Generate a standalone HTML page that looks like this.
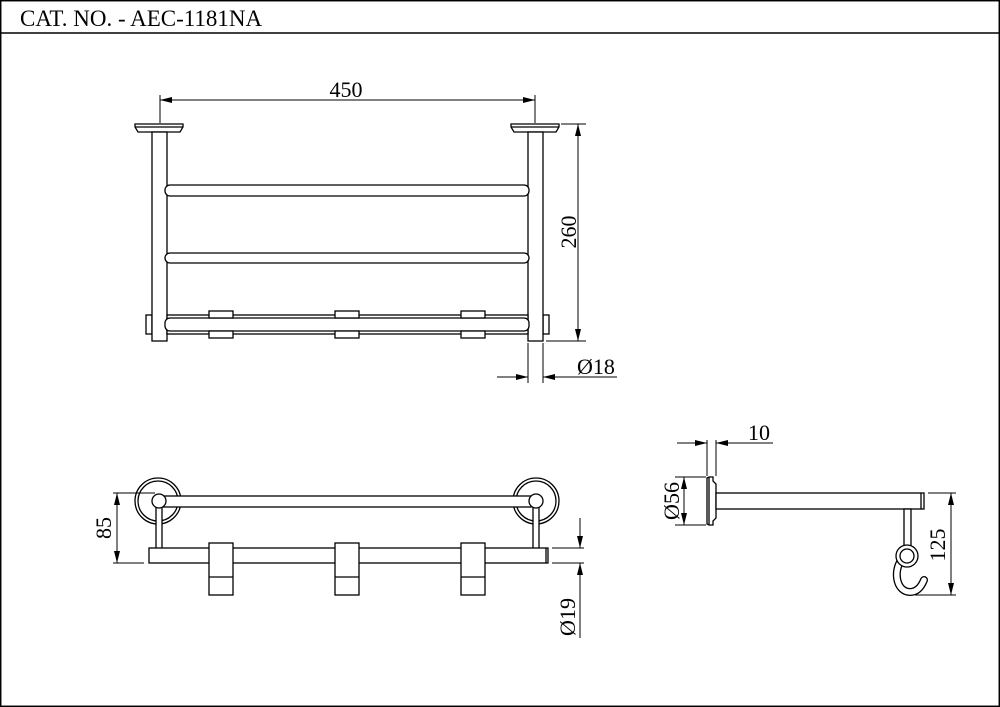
<!DOCTYPE html>
<html><head><meta charset="utf-8"><style>
html,body{margin:0;padding:0;background:#fff;}
svg{display:block;}
text{font-family:"Liberation Serif",serif;fill:#000;}
</style></head><body>
<svg width="1000" height="707" viewBox="0 0 1000 707" xmlns="http://www.w3.org/2000/svg">
<defs>
<marker id="a" viewBox="0 0 12 6" refX="12" refY="3" markerWidth="12" markerHeight="6" orient="auto-start-reverse" markerUnits="userSpaceOnUse"><path d="M0,0 L12,3 L0,6 z" fill="#000"/></marker>
</defs>
<g fill="none" stroke="#000" stroke-width="1.3">
<rect x="0.7" y="0.7" width="998.6" height="705.6" stroke-width="1.5"/>
<line x1="0" y1="33" x2="1000" y2="33" stroke-width="1.5"/>
</g>
<text x="20" y="26" font-size="23">CAT. NO. - AEC-1181NA</text>

<!-- TOP VIEW -->
<g fill="#fff" stroke="#000" stroke-width="1.3">
<path d="M135,124 H183 V127 L180,132 H138 L135,127 Z"/>
<line x1="135" y1="127" x2="183" y2="127"/>
<path d="M511,124 H559 V127 L556,132 H514 L511,127 Z"/>
<line x1="511" y1="127" x2="559" y2="127"/>
<rect x="146" y="315" width="6" height="19"/>
<rect x="543" y="315" width="6" height="19"/>
<rect x="152" y="132" width="15" height="209"/>
<rect x="528" y="132" width="15" height="209"/>
<rect x="165" y="185" width="364" height="11" rx="5"/>
<rect x="165" y="253" width="364" height="10" rx="5"/>
<rect x="167" y="315" width="361" height="19"/>
<rect x="165" y="318" width="364" height="13" rx="5"/>
<rect x="209" y="311" width="24" height="7"/>
<rect x="209" y="331" width="24" height="7"/>
<rect x="335" y="311" width="24" height="7"/>
<rect x="335" y="331" width="24" height="7"/>
<rect x="461" y="311" width="24" height="7"/>
<rect x="461" y="331" width="24" height="7"/>
</g>
<g fill="none" stroke="#000" stroke-width="1">
<line x1="160" y1="95" x2="160" y2="123"/>
<line x1="535" y1="95" x2="535" y2="123"/>
<line x1="160" y1="100" x2="535" y2="100" marker-start="url(#a)" marker-end="url(#a)"/>
<line x1="561" y1="124" x2="586" y2="124"/>
<line x1="546" y1="341" x2="586" y2="341"/>
<line x1="578" y1="124" x2="578" y2="341" marker-start="url(#a)" marker-end="url(#a)"/>
<line x1="528" y1="343" x2="528" y2="383"/>
<line x1="543" y1="343" x2="543" y2="383"/>
<line x1="497" y1="377" x2="528" y2="377" marker-end="url(#a)"/>
<line x1="617" y1="377" x2="543" y2="377" marker-end="url(#a)"/>
</g>
<text x="346" y="97" font-size="22" text-anchor="middle">450</text>
<text transform="translate(576,232) rotate(-90)" font-size="22" text-anchor="middle">260</text>
<text x="596" y="374" font-size="22" text-anchor="middle">Ø18</text>

<!-- FRONT VIEW -->
<g fill="#fff" stroke="#000" stroke-width="1.3">
<circle cx="158" cy="501" r="23"/>
<circle cx="158" cy="501" r="20"/>
<circle cx="536" cy="501" r="23"/>
<circle cx="536" cy="501" r="20"/>
<rect x="156" y="505" width="6" height="44"/>
<rect x="533" y="505" width="6" height="44"/>
<rect x="163" y="496" width="368" height="11"/>
<circle cx="159" cy="501" r="7"/>
<circle cx="536" cy="501" r="7"/>
<rect x="149" y="548" width="399" height="15"/>
<line x1="546" y1="548" x2="546" y2="563"/>
<rect x="209" y="543" width="24" height="52"/>
<line x1="209" y1="577" x2="233" y2="577"/>
<rect x="335" y="543" width="24" height="52"/>
<line x1="335" y1="577" x2="359" y2="577"/>
<rect x="461" y="543" width="24" height="52"/>
<line x1="461" y1="577" x2="485" y2="577"/>
</g>
<g fill="none" stroke="#000" stroke-width="1">
<line x1="113" y1="493" x2="155" y2="493"/>
<line x1="113" y1="563" x2="144" y2="563"/>
<line x1="117" y1="493" x2="117" y2="563" marker-start="url(#a)" marker-end="url(#a)"/>
<line x1="552" y1="548" x2="584" y2="548"/>
<line x1="552" y1="563" x2="584" y2="563"/>
<line x1="580" y1="518" x2="580" y2="548" marker-end="url(#a)"/>
<line x1="580" y1="638" x2="580" y2="563" marker-end="url(#a)"/>
</g>
<text transform="translate(111,528) rotate(-90)" font-size="22" text-anchor="middle">85</text>
<text transform="translate(575,617) rotate(-90)" font-size="22" text-anchor="middle">Ø19</text>

<!-- SIDE VIEW -->
<g fill="#fff" stroke="#000" stroke-width="1.3">
<path d="M707,478 L709,477 H713 V481 L716,484 V518 L713,521 V525 H709 L707,524 Z"/>
<line x1="709" y1="477" x2="709" y2="525"/>
<rect x="716" y="493" width="208" height="16"/>
<line x1="921" y1="493" x2="921" y2="509"/>
<rect x="904" y="509" width="7" height="38"/>
</g>
<path d="M900,562 C893,575 898,592 910,592 C918,592 922,585 924,580" fill="none" stroke="#000" stroke-width="8" stroke-linecap="round"/>
<path d="M900,562 C893,575 898,592 910,592 C918,592 922,585 924,580" fill="none" stroke="#fff" stroke-width="5.4" stroke-linecap="round"/>
<circle cx="907" cy="556" r="11" fill="#fff" stroke="#000" stroke-width="1.3"/>
<circle cx="907" cy="556" r="7" fill="#fff" stroke="#000" stroke-width="1.3"/>
<g fill="none" stroke="#000" stroke-width="1">
<line x1="707" y1="440" x2="707" y2="476"/>
<line x1="716" y1="440" x2="716" y2="476"/>
<line x1="677" y1="443" x2="707" y2="443" marker-end="url(#a)"/>
<line x1="773" y1="443" x2="716" y2="443" marker-end="url(#a)"/>
<line x1="675" y1="477" x2="706" y2="477"/>
<line x1="675" y1="525" x2="706" y2="525"/>
<line x1="684" y1="477" x2="684" y2="525" marker-start="url(#a)" marker-end="url(#a)"/>
<line x1="928" y1="493" x2="956" y2="493"/>
<line x1="915" y1="595" x2="956" y2="595"/>
<line x1="951" y1="493" x2="951" y2="595" marker-start="url(#a)" marker-end="url(#a)"/>
</g>
<text x="759" y="440" font-size="22" text-anchor="middle">10</text>
<text transform="translate(679,501) rotate(-90)" font-size="22" text-anchor="middle">Ø56</text>
<text transform="translate(945,545) rotate(-90)" font-size="22" text-anchor="middle">125</text>
</svg>
</body></html>
